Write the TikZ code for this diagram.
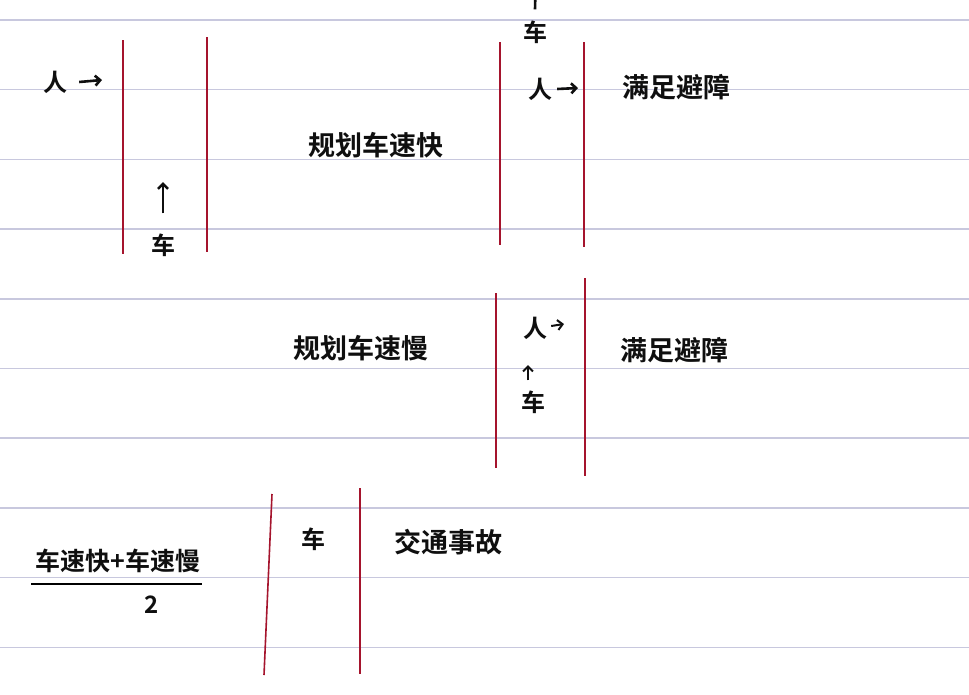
\documentclass[tikz,border=0pt]{standalone}
\usepackage{fontspec}
\newfontfamily\cjk{Noto Sans CJK SC}[BoldFont={Noto Sans CJK SC Bold}]
\usetikzlibrary{arrows.meta}

\begin{document}
\begin{tikzpicture}[x=1pt,y=-1pt,
  ruled/.style={draw={rgb,255:red,200;green,200;blue,222},line width=1.5pt},
  margin/.style={draw={rgb,255:red,165;green,20;blue,45},line width=1.6pt},
  hand/.style={font=\cjk\bfseries\fontsize{27}{27}\selectfont,inner sep=0pt,text={rgb,255:red,15;green,15;blue,15}},
  word/.style={font=\cjk\bfseries\fontsize{24}{24}\selectfont,inner sep=0pt,text={rgb,255:red,15;green,15;blue,15}},
  pen/.style={line width=2.6pt,draw={rgb,255:red,15;green,15;blue,15},-{Straight Barb[length=5pt,width=10pt]}}]
\useasboundingbox (0,0) rectangle (969,694);
\clip (0,0) rectangle (969,694);
\fill[white] (0,0) rectangle (969,694);
\foreach \k in {0,...,9}
  \draw[ruled] (0,{20+69.7*\k}) -- (969,{20+69.7*\k});

% red margins
\draw[margin] (123,40) -- (123,254);
\draw[margin] (207,37) -- (207,252);
\draw[margin] (500,42) -- (500,245);
\draw[margin] (584,42) -- (584,247);
\draw[margin] (496,293) -- (496,468);
\draw[margin] (585,278) -- (585,476);
\draw[margin] (272,494) -- (264,675);
\draw[margin] (360,488) -- (360,674);

% first panel
\node[word] (ren1) at (55,82) {人};
\coordinate (ren1tip) at (102,80);
\draw[pen] ([xshift=12pt]ren1.east) -- (ren1tip);
\node[word] (che1) at (163,245) {车};
\coordinate (che1tip) at (163,182);
\draw[pen] ([yshift=20pt]che1.north) -- (che1tip);

\node[hand] (fast) at (376,145) {规划车速快};

% second panel
\node[word] (che2) at (535,32) {车};
\coordinate (che2tip) at (536,-30);
\draw[pen] ([yshift=11pt]che2.north) -- (che2tip);
\node[word] (ren2) at (540,89) {人};
\coordinate (ren2tip) at (578,88);
\draw[pen] ([xshift=5pt]ren2.east) -- (ren2tip);
\node[hand] (avoid1) at (676,87) {满足避障};

% third panel
\node[hand] (slow) at (361,348) {规划车速慢};
\node[word] (ren3) at (535,328) {人};
\coordinate (ren3tip) at (564,324);
\draw[pen,line width=2pt] ([xshift=4pt,yshift=2pt]ren3.east) -- (ren3tip);
\node[word] (che3) at (533,402) {车};
\coordinate (che3tip) at (528,365);
\draw[pen,line width=2pt] ([xshift=-5pt,yshift=10pt]che3.north) -- (che3tip);
\node[hand] (avoid2) at (674,350) {满足避障};

% fourth panel
\node[word,font=\cjk\bfseries\fontsize{25}{25}\selectfont] (num) at (118,561) {车速快+车速慢};
\coordinate (barL) at (31,584);
\coordinate (barR) at (202,584);
\draw[line width=2.6pt] (barL) -- (barR);
\node[word] (den) at (152,605) {2};
\node[word] (che4) at (313,539) {车};
\node[hand] (crash) at (448,542) {交通事故};
\end{tikzpicture}
\end{document}
